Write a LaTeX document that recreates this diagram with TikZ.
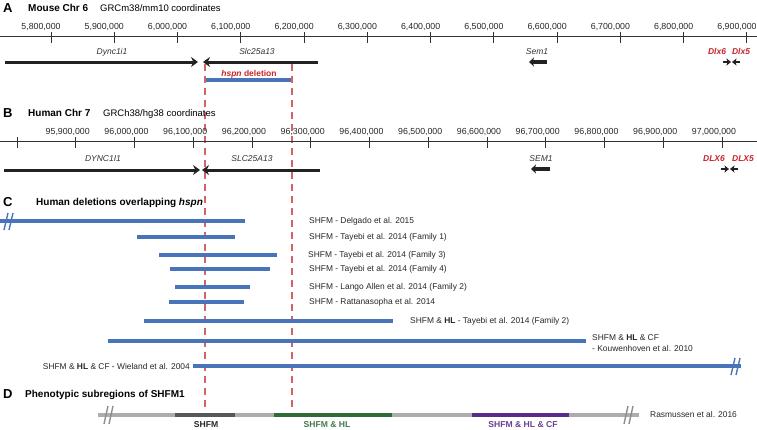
\documentclass[tikz,border=0pt]{standalone}
\usepackage{fontspec}
\setmainfont{Liberation Sans}
\usetikzlibrary{arrows.meta}
\definecolor{dred}{HTML}{C8242B}
\definecolor{dashred}{HTML}{D06468}
\definecolor{delblue}{HTML}{4A74BA}
\definecolor{bargrey}{HTML}{ADADAD}
\definecolor{markgrey}{HTML}{8E8E8E}
\definecolor{bardark}{HTML}{585858}
\definecolor{bargreen}{HTML}{2F6B37}
\definecolor{barpurple}{HTML}{5A2A88}
\definecolor{genek}{HTML}{222222}
\tikzset{
  letter/.style={font=\bfseries\fontsize{13}{13}\selectfont, anchor=base west, inner sep=0},
  ptitle/.style={font=\bfseries\fontsize{10}{12}\selectfont, anchor=base west, inner sep=0},
  psub/.style={font=\fontsize{9.5}{11}\selectfont, anchor=base west, inner sep=0},
  ticklab/.style={font=\fontsize{8.8}{10}\selectfont, anchor=base, inner sep=0, text=black!85},
  axisline/.style={line width=1pt, draw=black!80},
  tickline/.style={line width=1pt, draw=black!80},
  genelab/.style={font=\itshape\fontsize{8.5}{10}\selectfont, anchor=base, inner sep=0, text=black!80},
  redlab/.style={font=\bfseries\itshape\fontsize{8.5}{10}\selectfont, anchor=base, inner sep=0, text=dred},
  genearrow/.style={line width=3pt, draw=genek, -{Stealth[length=7pt,width=10pt,inset=2.5pt]}},
  semarrow/.style={line width=3.6pt, draw=genek, -{Stealth[length=5pt,width=9pt,inset=1.5pt]}},
  smallarrow/.style={line width=2.4pt, draw=genek, -{Stealth[length=4.5pt,width=7pt,inset=1pt]}},
  delbar/.style={line width=3.4pt, draw=delblue},
  dellab/.style={font=\fontsize{8.4}{10}\selectfont, anchor=west, inner sep=0, text=black!85},
  dashline/.style={line width=1.2pt, draw=dashred, dash pattern=on 7pt off 5pt},
  breakmark/.style={line width=1.4pt},
  sbar/.style={line width=4.2pt},
  sublab/.style={font=\bfseries\fontsize{8.6}{10}\selectfont, anchor=base, inner sep=0},
}
\begin{document}
\begin{tikzpicture}[x=1pt,y=-1pt]
\useasboundingbox (0,0) rectangle (757,429);

% ---------- Panel A ----------
\node[letter] (la) at (3,12) {A};
\node[ptitle] (ta) at (28,11.5) {Mouse Chr 6};
\node[psub] (sa) at (100,11.5) {GRCm38/mm10 coordinates};
\coordinate (axAl) at (0,36);
\coordinate (axAr) at (757,36);
\draw[axisline] (axAl) -- (axAr);
\foreach \i/\lab in {0/{5,800,000},1/{5,900,000},2/{6,000,000},3/{6,100,000},4/{6,200,000},5/{6,300,000},6/{6,400,000},7/{6,500,000},8/{6,600,000},9/{6,700,000},10/{6,800,000},11/{6,900,000}}{
  \pgfmathsetmacro{\tx}{51+63.27*\i}
  \draw[tickline] (\tx,32) -- (\tx,43);
  \node[ticklab] (mt\i) at (\tx-10,29) {\lab};
}
\node[genelab] (gDa) at (112,54) {Dync1i1};
\node[genelab] (gSa) at (257,54) {Slc25a13};
\node[genelab] (gMa) at (537,54) {Sem1};
\node[redlab] (gX6a) at (717,54) {Dlx6};
\node[redlab] (gX5a) at (741,54) {Dlx5};
\coordinate (dAs) at (5,62);   \coordinate (dAe) at (198,62);
\coordinate (sAs) at (318,62); \coordinate (sAe) at (203,62);
\coordinate (mAs) at (547,62); \coordinate (mAe) at (529,62);
\coordinate (x6As) at (723,62); \coordinate (x6Ae) at (731,62);
\coordinate (x5As) at (740,62); \coordinate (x5Ae) at (732,62);
\draw[genearrow] (dAs) -- (dAe);
\draw[genearrow] (sAs) -- (sAe);
\draw[semarrow] (mAs) -- (mAe);
\draw[smallarrow] (x6As) -- (x6Ae);
\draw[smallarrow] (x5As) -- (x5Ae);
\node[font=\bfseries\fontsize{8.5}{10}\selectfont, anchor=base, inner sep=0, text=dred] (hsd) at (249,76) {\textit{hspn} deletion};
\coordinate (hsl) at (205,80); \coordinate (hsr) at (292,80);
\draw[delbar] (hsl) -- (hsr);

% dashed boundaries
\coordinate (dlt) at (205,64); \coordinate (dlb) at (205,411);
\coordinate (drt) at (292,64); \coordinate (drb) at (292,411);
\draw[dashline] (dlt) -- (dlb);
\draw[dashline] (drt) -- (drb);

% ---------- Panel B ----------
\node[letter] (lb) at (3,117) {B};
\node[ptitle] (tb) at (28,116.5) {Human Chr 7};
\node[psub] (sb) at (103,116.5) {GRCh38/hg38 coordinates};
\coordinate (axBl) at (0,141);
\coordinate (axBr) at (757,141);
\draw[axisline] (axBl) -- (axBr);
\foreach \i in {0,...,12}{
  \pgfmathsetmacro{\tx}{17+58.75*\i}
  \draw[tickline] (\tx,137) -- (\tx,148);
}
\foreach \i/\lab in {1/{95,900,000},2/{96,000,000},3/{96,100,000},4/{96,200,000},5/{96,300,000},6/{96,400,000},7/{96,500,000},8/{96,600,000},9/{96,700,000},10/{96,800,000},11/{96,900,000},12/{97,000,000}}{
  \pgfmathsetmacro{\tx}{17+58.75*\i}
  \node[ticklab] (ht\i) at (\tx-8,134) {\lab};
}
\node[genelab] (gDb) at (103,161) {DYNC1I1};
\node[genelab] (gSb) at (252,161) {SLC25A13};
\node[genelab] (gMb) at (541,161) {SEM1};
\node[redlab] (gX6b) at (714,161) {DLX6};
\node[redlab] (gX5b) at (743,161) {DLX5};
\coordinate (dBs) at (4,170);   \coordinate (dBe) at (200,170);
\coordinate (sBs) at (320,170); \coordinate (sBe) at (202,170);
\coordinate (mBs) at (550,169); \coordinate (mBe) at (531,169);
\coordinate (x6Bs) at (721,169); \coordinate (x6Be) at (729,169);
\coordinate (x5Bs) at (738,169); \coordinate (x5Be) at (730,169);
\draw[genearrow] (dBs) -- (dBe);
\draw[genearrow] (sBs) -- (sBe);
\draw[semarrow] (mBs) -- (mBe);
\draw[smallarrow] (x6Bs) -- (x6Be);
\draw[smallarrow] (x5Bs) -- (x5Be);

% ---------- Panel C ----------
\node[letter] (lc) at (3,206) {C};
\node[ptitle] (tc) at (36,205.5) {Human deletions overlapping \textit{hspn}};

\coordinate (d1l) at (0,221);   \coordinate (d1r) at (245,221);
\coordinate (d2l) at (137,237); \coordinate (d2r) at (235,237);
\coordinate (d3l) at (159,255); \coordinate (d3r) at (277,255);
\coordinate (d4l) at (170,269); \coordinate (d4r) at (270,269);
\coordinate (d5l) at (175,287); \coordinate (d5r) at (250,287);
\coordinate (d6l) at (169,302); \coordinate (d6r) at (244,302);
\coordinate (d7l) at (144,321); \coordinate (d7r) at (393,321);
\coordinate (d8l) at (108,341); \coordinate (d8r) at (586,341);
\coordinate (d9l) at (193,366); \coordinate (d9r) at (741,366);
\foreach \k in {1,...,9}{ \draw[delbar] (d\k l) -- (d\k r); }

% break marks on deletions
\draw[breakmark, draw=delblue] (4,230) -- (8,213);
\draw[breakmark, draw=delblue] (9,230) -- (13,213);
\draw[breakmark, draw=delblue] (731,375) -- (735,358);
\draw[breakmark, draw=delblue] (736,375) -- (740,358);

\node[dellab] (c1) at (309,221) {SHFM - Delgado et al. 2015};
\node[dellab] (c2) at (309,237) {SHFM - Tayebi et al. 2014 (Family 1)};
\node[dellab] (c3) at (308,255) {SHFM - Tayebi et al. 2014 (Family 3)};
\node[dellab] (c4) at (309,269) {SHFM - Tayebi et al. 2014 (Family 4)};
\node[dellab] (c5) at (309,287) {SHFM - Lango Allen et al. 2014 (Family 2)};
\node[dellab] (c6) at (309,302) {SHFM - Rattanasopha et al. 2014};
\node[dellab] (c7) at (410,321) {SHFM \& \textbf{HL} - Tayebi et al. 2014 (Family 2)};
\node[dellab, align=left, font=\fontsize{8.4}{11}\selectfont] (c8) at (592,343.5) {SHFM \& \textbf{HL} \& CF\\- Kouwenhoven et al. 2010};
\node[dellab, anchor=east] (c9) at (190,366) {SHFM \& \textbf{HL} \& CF - Wieland et al. 2004};

% ---------- Panel D ----------
\node[letter] (ld) at (3,398) {D};
\node[ptitle] (td) at (25,397.5) {Phenotypic subregions of SHFM1};
\coordinate (bl) at (98,415); \coordinate (br) at (639,415);
\draw[sbar, draw=bargrey] (bl) -- (br);
\coordinate (s1l) at (175,415); \coordinate (s1r) at (235,415);
\coordinate (s2l) at (274,415); \coordinate (s2r) at (392,415);
\coordinate (s3l) at (472,415); \coordinate (s3r) at (569,415);
\draw[sbar, draw=bardark] (s1l) -- (s1r);
\draw[sbar, draw=bargreen] (s2l) -- (s2r);
\draw[sbar, draw=barpurple] (s3l) -- (s3r);
\draw[breakmark, draw=markgrey] (104,424) -- (108,406);
\draw[breakmark, draw=markgrey] (109,424) -- (113,406);
\draw[breakmark, draw=markgrey] (624,424) -- (628,406);
\draw[breakmark, draw=markgrey] (629,424) -- (633,406);
\node[sublab, text=black!85] (ls1) at (206,427.5) {SHFM};
\node[sublab, text=bargreen!90!white] (ls2) at (327,427.5) {SHFM \& HL};
\node[sublab, text=barpurple!90!white] (ls3) at (523,427.5) {SHFM \& HL \& CF};
\node[dellab] (ras) at (650,414) {Rasmussen et al. 2016};
\end{tikzpicture}
\end{document}
